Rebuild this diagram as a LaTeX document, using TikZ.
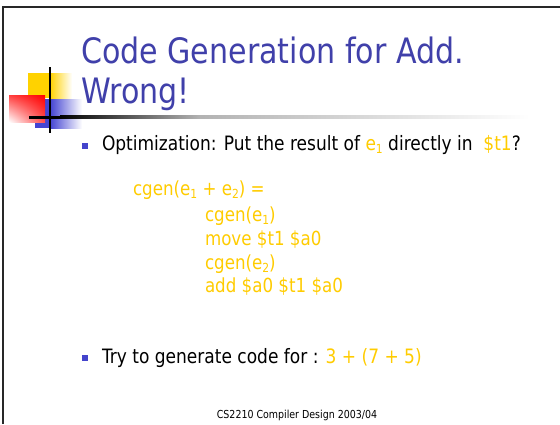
\documentclass[tikz,border=0pt]{standalone}
\usepackage{fontspec}
\usetikzlibrary{shadings}
\setmainfont{DejaVu Sans}[FakeStretch=0.86]
\definecolor{titleblue}{RGB}{64,64,170}
\definecolor{bulletblue}{RGB}{68,68,204}
\definecolor{codeyellow}{RGB}{255,204,0}
\definecolor{logoyellow}{RGB}{255,210,0}
\definecolor{logoblue}{RGB}{68,68,210}
\definecolor{framegray}{RGB}{40,40,40}
\newcommand{\sub}[1]{\raisebox{-0.3ex}{\fontsize{12.5}{12.5}\selectfont #1}}
\tikzset{
  txt/.style={anchor=base west, inner sep=0pt, outer sep=0pt},
  title/.style={txt, text=titleblue, font=\fontsize{35}{35}\selectfont},
  body/.style={txt, text=black, font=\fontsize{19.8}{19.8}\selectfont},
  code/.style={txt, text=codeyellow, font=\fontsize{19.4}{19.4}\selectfont},
  bulletsq/.style={fill=bulletblue, draw=none, minimum size=6pt, inner sep=0pt},
}
\begin{document}
\begin{tikzpicture}[x=1pt, y=-1pt]
  \useasboundingbox (0,0) rectangle (560,424);
  \fill[white] (0,0) rectangle (560,424);

  % slide frame: left and top edges
  \draw[framegray, line width=1.3pt] (3,424) -- (3,7) -- (560,7);

  % corner logo: yellow and blue squares fading to the right
  \fill[logoyellow] (28,73) rectangle (50,98);
  \shade[left color=logoyellow, right color=white] (50,73) rectangle (72,98);
  \fill[logoblue] (35,99) rectangle (50,128);
  \shade[left color=logoblue, right color=white] (50,99) rectangle (82,128);
  % red square, white at the lower left
  \shade[upper left=red!75!white, upper right=red, lower left=white, lower right=red!70!white]
    (9,95) rectangle (45,122);

  % rule under the title, fading out
  \fill[black] (29,115.5) rectangle (60,118.5);
  \shade[left color=black, right color=gray!60] (60,115.5) rectangle (200,118.5);
  \shade[left color=gray!60, right color=white] (200,115.5) rectangle (530,118.5);
  % vertical stroke of the logo
  \draw[black, line width=2pt] (50,67) -- (50,133);

  % title
  \node[title] (t1) at (81,63) {Code Generation for Add.};
  \node[title] (t2) at (81,103) {Wrong!};

  % first bullet
  \node[bulletsq] (b1) at (85,146) {};
  \node[body] (l1) at (102,150) {Optimization: Put the result of \textcolor{codeyellow}{e\sub{1}} directly in \ \textcolor{codeyellow}{\$t1}?};

  % code block
  \node[code] (c0) at (133,195) {cgen(e\sub{1} + e\sub{2}) =};
  \node[code] (c1) at (205,221) {cgen(e\sub{1})};
  \node[code] (c2) at (205,245) {move \$t1 \$a0};
  \node[code] (c3) at (205,269) {cgen(e\sub{2})};
  \node[code] (c4) at (205,292) {add \$a0 \$t1 \$a0};

  % second bullet
  \node[bulletsq] (b2) at (85,358) {};
  \node[body] (l2) at (102,363) {Try to generate code for : \textcolor{codeyellow}{3 + (7 + 5)}};

  % footer
  \node[anchor=base, inner sep=0pt, font=\fontsize{11}{11}\selectfont] (ft) at (297,418) {CS2210 Compiler Design 2003/04};
\end{tikzpicture}
\end{document}
